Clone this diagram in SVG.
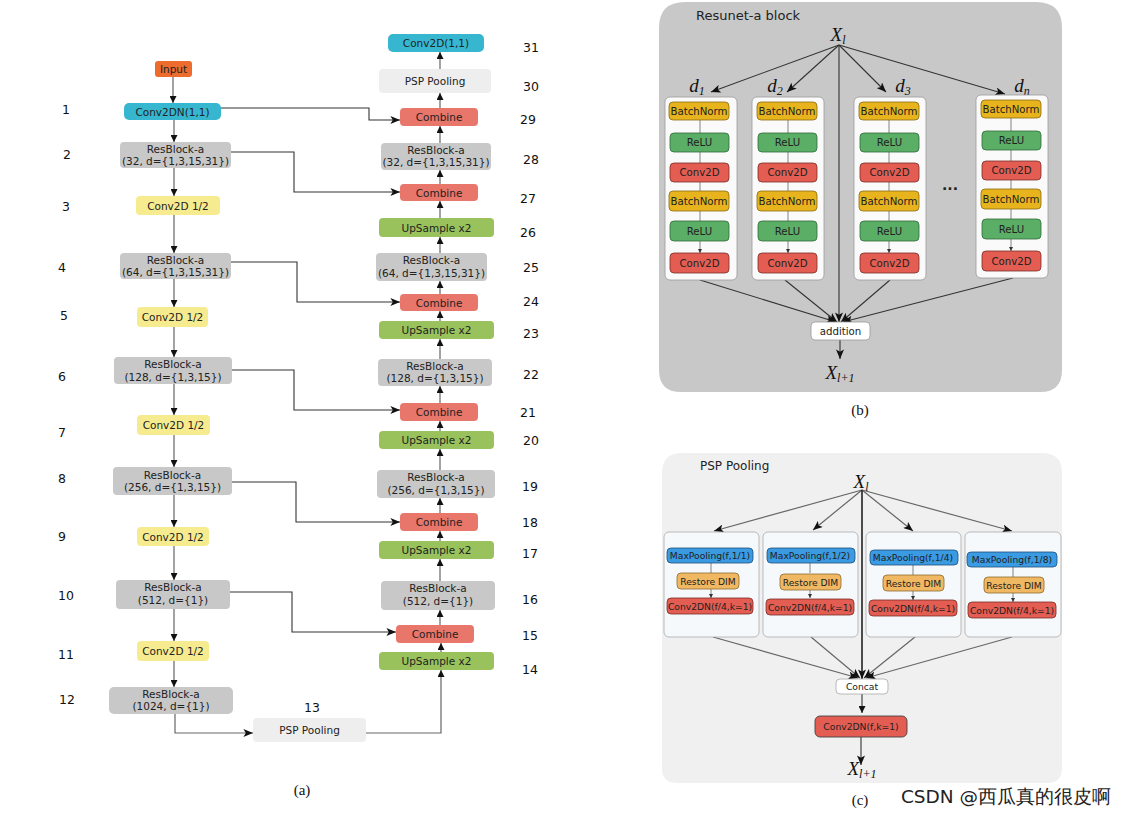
<svg xmlns="http://www.w3.org/2000/svg" width="1127" height="816" viewBox="0 0 1127 816">
<style>
text{font-family:"DejaVu Sans","Liberation Sans",sans-serif;fill:#222}
.lb{font-size:10.5px;text-anchor:middle}
.num{font-size:12.5px;text-anchor:middle;fill:#111}
.cap{font-family:"Liberation Serif",serif;font-size:15px;text-anchor:middle;fill:#111}
.math{font-family:"Liberation Serif",serif;font-style:italic;font-size:19px;text-anchor:middle;fill:#111}
.sub{font-size:12px}
.in{font-size:10.2px;text-anchor:middle}
.ps{font-size:9.2px;text-anchor:middle}
.c{stroke:#666;stroke-width:1.2;fill:none}
.cd{stroke:#333;stroke-width:1.1;fill:none}
.thin{stroke:#666;stroke-width:0.8;fill:none}
.cyan{fill:#36b7cf}
.gray{fill:#c8c8c8}
.yel{fill:#f6ec8f}
.red{fill:#e9766b}
.grn{fill:#99c25d}
.lgt{fill:#eeeeee}
.bn{fill:#e8b41e;stroke:#8a6a10;stroke-width:0.8}
.rl{fill:#5aae66;stroke:#2f6b39;stroke-width:0.8}
.cv{fill:#e35d52;stroke:#7a2d28;stroke-width:0.8}
.mp{fill:#3a9ae2;stroke:#1e4f78;stroke-width:0.8}
.rd{fill:#f0b862;stroke:#8c6a30;stroke-width:0.8}
</style>
<defs>
<marker id="a" viewBox="0 0 10 10" refX="10" refY="5" markerWidth="7" markerHeight="7" markerUnits="userSpaceOnUse" orient="auto"><path d="M0,0 L10,5 L0,10 z" fill="#111"/></marker>
<marker id="s" viewBox="0 0 12 10" refX="12" refY="5" markerWidth="11" markerHeight="8" markerUnits="userSpaceOnUse" orient="auto"><path d="M0,0 L12,5 L0,10 L3,5 z" fill="#111"/></marker>
<marker id="t" viewBox="0 0 10 10" refX="10" refY="5" markerWidth="4" markerHeight="4" markerUnits="userSpaceOnUse" orient="auto"><path d="M0,0 L10,5 L0,10 z" fill="#333"/></marker>
<marker id="b" viewBox="0 0 12 10" refX="12" refY="5" markerWidth="10" markerHeight="8" markerUnits="userSpaceOnUse" orient="auto"><path d="M0,0 L12,5 L0,10 L3,5 z" fill="#111"/></marker>
</defs>

<!-- ===== Panel (a) ===== -->
<g id="connectors-a">
<path class="c" marker-end="url(#a)" d="M173,77 V103"/>
<path class="c" marker-end="url(#a)" d="M174,120 V142"/>
<path class="c" marker-end="url(#a)" d="M174,168 V196"/>
<path class="c" marker-end="url(#a)" d="M174,215 V253"/>
<path class="c" marker-end="url(#a)" d="M174,279 V307"/>
<path class="c" marker-end="url(#a)" d="M174,327 V357"/>
<path class="c" marker-end="url(#a)" d="M174,384 V415"/>
<path class="c" marker-end="url(#a)" d="M174,435 V467"/>
<path class="c" marker-end="url(#a)" d="M174,495 V527"/>
<path class="c" marker-end="url(#a)" d="M174,546 V580"/>
<path class="c" marker-end="url(#a)" d="M174,609 V641"/>
<path class="c" marker-end="url(#a)" d="M174,661 V687"/>
<path class="c" marker-end="url(#s)" d="M175,714 V733 H253"/>
<path class="c" marker-end="url(#a)" d="M366,733 H441 V670"/>
<path class="c" marker-end="url(#a)" d="M441,652 V643"/>
<path class="c" marker-end="url(#a)" d="M440,625 V610"/>
<path class="c" marker-end="url(#a)" d="M440,581 V559"/>
<path class="c" marker-end="url(#a)" d="M440,541 V531"/>
<path class="c" marker-end="url(#a)" d="M440,513 V498"/>
<path class="c" marker-end="url(#a)" d="M440,470 V449"/>
<path class="c" marker-end="url(#a)" d="M440,431 V421"/>
<path class="c" marker-end="url(#a)" d="M440,403 V386"/>
<path class="c" marker-end="url(#a)" d="M440,359 V339"/>
<path class="c" marker-end="url(#a)" d="M440,321 V311"/>
<path class="c" marker-end="url(#a)" d="M440,294 V281"/>
<path class="c" marker-end="url(#a)" d="M440,253 V237"/>
<path class="c" marker-end="url(#a)" d="M440,218 V201"/>
<path class="c" marker-end="url(#a)" d="M440,184 V170"/>
<path class="c" marker-end="url(#a)" d="M440,143 V126"/>
<path class="c" marker-end="url(#a)" d="M440,108 V93"/>
<path class="c" marker-end="url(#a)" d="M440,69 V52"/>
<path class="cd" marker-end="url(#s)" d="M221,108 H369 V120 H400"/>
<path class="cd" marker-end="url(#s)" d="M231,152 H294 V192 H400"/>
<path class="cd" marker-end="url(#s)" d="M231,262 H297 V302 H400"/>
<path class="cd" marker-end="url(#s)" d="M232,370 H294 V410 H400"/>
<path class="cd" marker-end="url(#s)" d="M232,482 H296 V522 H400"/>
<path class="cd" marker-end="url(#s)" d="M230,592 H292 V632 H396"/>
</g>

<g id="n-input"><rect x="155" y="61" width="37" height="16" rx="3" fill="#ec6b2d"/><text class="lb" x="173.5" y="73">Input</text></g>
<g id="n1"><rect class="cyan" x="124" y="103" width="97" height="17" rx="5"/><text class="lb" x="172.5" y="115.5">Conv2DN(1,1)</text><text class="num" x="66" y="114">1</text></g>
<g id="n2"><rect class="gray" x="120" y="142" width="111" height="26" rx="4"/><text class="lb" x="175.5" y="153">ResBlock-a</text><text class="lb" x="175.5" y="165">(32, d={1,3,15,31})</text><text class="num" x="67" y="159">2</text></g>
<g id="n3"><rect class="yel" x="136" y="196" width="84" height="19" rx="4"/><text class="lb" x="178" y="209.5">Conv2D 1/2</text><text class="num" x="66" y="211">3</text></g>
<g id="n4"><rect class="gray" x="120" y="253" width="111" height="26" rx="4"/><text class="lb" x="175.5" y="264">ResBlock-a</text><text class="lb" x="175.5" y="276">(64, d={1,3,15,31})</text><text class="num" x="62" y="272">4</text></g>
<g id="n5"><rect class="yel" x="137" y="307" width="71" height="20" rx="4"/><text class="lb" x="172.5" y="321">Conv2D 1/2</text><text class="num" x="64" y="320">5</text></g>
<g id="n6"><rect class="gray" x="114" y="357" width="118" height="27" rx="4"/><text class="lb" x="173" y="368">ResBlock-a</text><text class="lb" x="173" y="381">(128, d={1,3,15})</text><text class="num" x="62" y="381">6</text></g>
<g id="n7"><rect class="yel" x="137" y="415" width="73" height="20" rx="4"/><text class="lb" x="173.5" y="429">Conv2D 1/2</text><text class="num" x="62" y="437">7</text></g>
<g id="n8"><rect class="gray" x="113" y="467" width="119" height="28" rx="4"/><text class="lb" x="172.5" y="479">ResBlock-a</text><text class="lb" x="172.5" y="491">(256, d={1,3,15})</text><text class="num" x="62" y="483">8</text></g>
<g id="n9"><rect class="yel" x="137" y="527" width="72" height="19" rx="4"/><text class="lb" x="173" y="540.5">Conv2D 1/2</text><text class="num" x="62" y="541">9</text></g>
<g id="n10"><rect class="gray" x="116" y="580" width="114" height="29" rx="4"/><text class="lb" x="173" y="591">ResBlock-a</text><text class="lb" x="173" y="604">(512, d={1})</text><text class="num" x="66" y="600">10</text></g>
<g id="n11"><rect class="yel" x="137" y="641" width="72" height="20" rx="4"/><text class="lb" x="173" y="655">Conv2D 1/2</text><text class="num" x="66" y="659">11</text></g>
<g id="n12"><rect class="gray" x="109" y="687" width="124" height="27" rx="5"/><text class="lb" x="171" y="698">ResBlock-a</text><text class="lb" x="171" y="710">(1024, d={1})</text><text class="num" x="67" y="704">12</text></g>
<g id="n13"><rect class="lgt" x="253" y="718" width="113" height="24" rx="4"/><text class="lb" x="309.5" y="734">PSP Pooling</text><text class="num" x="312" y="712">13</text></g>
<g id="n14"><rect class="grn" x="379" y="652" width="115" height="18" rx="4"/><text class="lb" x="436.5" y="665">UpSample x2</text><text class="num" x="530" y="674">14</text></g>
<g id="n15"><rect class="red" x="396" y="625" width="78" height="18" rx="4"/><text class="lb" x="435" y="638">Combine</text><text class="num" x="530" y="640">15</text></g>
<g id="n16"><rect class="gray" x="381" y="581" width="114" height="29" rx="4"/><text class="lb" x="438" y="592">ResBlock-a</text><text class="lb" x="438" y="605">(512, d={1})</text><text class="num" x="530" y="604">16</text></g>
<g id="n17"><rect class="grn" x="379" y="541" width="115" height="18" rx="4"/><text class="lb" x="436.5" y="554">UpSample x2</text><text class="num" x="530" y="558">17</text></g>
<g id="n18"><rect class="red" x="400" y="513" width="78" height="18" rx="4"/><text class="lb" x="439" y="526">Combine</text><text class="num" x="530" y="527">18</text></g>
<g id="n19"><rect class="gray" x="377" y="470" width="118" height="28" rx="4"/><text class="lb" x="436" y="481">ResBlock-a</text><text class="lb" x="436" y="494">(256, d={1,3,15})</text><text class="num" x="530" y="491">19</text></g>
<g id="n20"><rect class="grn" x="379" y="431" width="115" height="18" rx="4"/><text class="lb" x="436.5" y="444">UpSample x2</text><text class="num" x="531" y="445">20</text></g>
<g id="n21"><rect class="red" x="400" y="403" width="78" height="18" rx="4"/><text class="lb" x="439" y="416">Combine</text><text class="num" x="528" y="417">21</text></g>
<g id="n22"><rect class="gray" x="378" y="359" width="114" height="27" rx="4"/><text class="lb" x="435" y="370">ResBlock-a</text><text class="lb" x="435" y="382">(128, d={1,3,15})</text><text class="num" x="531" y="379">22</text></g>
<g id="n23"><rect class="grn" x="379" y="321" width="115" height="18" rx="4"/><text class="lb" x="436.5" y="334">UpSample x2</text><text class="num" x="531" y="338">23</text></g>
<g id="n24"><rect class="red" x="400" y="294" width="78" height="17" rx="4"/><text class="lb" x="439" y="306.5">Combine</text><text class="num" x="531" y="306">24</text></g>
<g id="n25"><rect class="gray" x="376" y="253" width="111" height="28" rx="4"/><text class="lb" x="431.5" y="264">ResBlock-a</text><text class="lb" x="431.5" y="277">(64, d={1,3,15,31})</text><text class="num" x="531" y="272">25</text></g>
<g id="n26"><rect class="grn" x="379" y="218" width="115" height="19" rx="4"/><text class="lb" x="436.5" y="231.5">UpSample x2</text><text class="num" x="528" y="237">26</text></g>
<g id="n27"><rect class="red" x="400" y="184" width="78" height="17" rx="4"/><text class="lb" x="439" y="196.5">Combine</text><text class="num" x="528" y="203">27</text></g>
<g id="n28"><rect class="gray" x="381" y="143" width="110" height="27" rx="4"/><text class="lb" x="436" y="154">ResBlock-a</text><text class="lb" x="436" y="166">(32, d={1,3,15,31})</text><text class="num" x="531" y="164">28</text></g>
<g id="n29"><rect class="red" x="400" y="108" width="78" height="18" rx="4"/><text class="lb" x="439" y="121">Combine</text><text class="num" x="528" y="124">29</text></g>
<g id="n30"><rect class="lgt" x="379" y="69" width="112" height="24" rx="4"/><text class="lb" x="435" y="84.5">PSP Pooling</text><text class="num" x="531" y="91">30</text></g>
<g id="n31"><rect class="cyan" x="388" y="34" width="96" height="18" rx="5"/><text class="lb" x="436" y="47">Conv2D(1,1)</text><text class="num" x="531" y="52">31</text></g>
<text class="cap" x="302" y="795">(a)</text>

<!-- ===== Panel (b) ===== -->
<g id="panel-b">
<path d="M659,28 Q659,2 685,2 H1036 Q1062,2 1062,28 V370 Q1062,392 1040,392 H681 Q659,392 659,370 Z" fill="#c8c8c8"/>
<text x="696" y="20" font-size="13px" fill="#222">Resunet-a block</text>
<text class="math" x="838" y="41">X<tspan class="sub" dy="3">l</tspan></text>
</g>
<g id="connectors-b">
<path class="cd" marker-end="url(#b)" d="M839,45 L711,92"/>
<path class="cd" marker-end="url(#b)" d="M839,45 L787,92"/>
<path class="cd" marker-end="url(#b)" d="M839,45 L886,92"/>
<path class="cd" marker-end="url(#b)" d="M839,45 L1005,94"/>
<path class="cd" marker-end="url(#b)" d="M839,45 V322"/>
<path class="cd" marker-end="url(#b)" d="M700,280 L836,322"/>
<path class="cd" marker-end="url(#b)" d="M785,280 L837,322"/>
<path class="cd" marker-end="url(#b)" d="M890,280 L841,322"/>
<path class="cd" marker-end="url(#b)" d="M1013,278 L843,322"/>
<path class="cd" marker-end="url(#b)" d="M840,340 V359"/>
</g>
<g id="b-col1">
<text class="math" x="697" y="92">d<tspan class="sub" dy="3">1</tspan></text>
<rect x="665" y="97" width="72" height="183" rx="5" fill="#fafafa" stroke="#999" stroke-width="0.8"/>
<path class="thin" marker-end="url(#t)" d="M700,120 V133 M700,152 V163 M700,182 V191 M700,211 V221 M700,241 V253"/>
<rect class="bn" x="669" y="102" width="60" height="18" rx="4"/><text class="in" x="699" y="114.5">BatchNorm</text>
<rect class="rl" x="670" y="133" width="59" height="19" rx="4"/><text class="in" x="699.5" y="146">ReLU</text>
<rect class="cv" x="670" y="163" width="59" height="19" rx="4"/><text class="in" x="699.5" y="176">Conv2D</text>
<rect class="bn" x="669" y="191" width="60" height="20" rx="4"/><text class="in" x="699" y="204.5">BatchNorm</text>
<rect class="rl" x="670" y="221" width="59" height="20" rx="4"/><text class="in" x="699.5" y="234.5">ReLU</text>
<rect class="cv" x="670" y="253" width="59" height="20" rx="4"/><text class="in" x="699.5" y="266.5">Conv2D</text>
</g>
<g id="b-col2">
<text class="math" x="775" y="92">d<tspan class="sub" dy="3">2</tspan></text>
<rect x="752" y="97" width="72" height="183" rx="5" fill="#fafafa" stroke="#999" stroke-width="0.8"/>
<path class="thin" marker-end="url(#t)" d="M788,120 V133 M788,152 V163 M788,182 V191 M788,211 V221 M788,241 V253"/>
<rect class="bn" x="757" y="102" width="60" height="18" rx="4"/><text class="in" x="787" y="114.5">BatchNorm</text>
<rect class="rl" x="758" y="133" width="59" height="19" rx="4"/><text class="in" x="787.5" y="146">ReLU</text>
<rect class="cv" x="758" y="163" width="59" height="19" rx="4"/><text class="in" x="787.5" y="176">Conv2D</text>
<rect class="bn" x="757" y="191" width="60" height="20" rx="4"/><text class="in" x="787" y="204.5">BatchNorm</text>
<rect class="rl" x="758" y="221" width="59" height="20" rx="4"/><text class="in" x="787.5" y="234.5">ReLU</text>
<rect class="cv" x="758" y="253" width="59" height="20" rx="4"/><text class="in" x="787.5" y="266.5">Conv2D</text>
</g>
<g id="b-col3">
<text class="math" x="903" y="92">d<tspan class="sub" dy="3">3</tspan></text>
<rect x="854" y="97" width="72" height="183" rx="5" fill="#fafafa" stroke="#999" stroke-width="0.8"/>
<path class="thin" marker-end="url(#t)" d="M889,120 V133 M889,152 V163 M889,182 V191 M889,211 V221 M889,241 V253"/>
<rect class="bn" x="859" y="102" width="60" height="18" rx="4"/><text class="in" x="889" y="114.5">BatchNorm</text>
<rect class="rl" x="860" y="133" width="59" height="19" rx="4"/><text class="in" x="889.5" y="146">ReLU</text>
<rect class="cv" x="860" y="163" width="59" height="19" rx="4"/><text class="in" x="889.5" y="176">Conv2D</text>
<rect class="bn" x="859" y="191" width="60" height="20" rx="4"/><text class="in" x="889" y="204.5">BatchNorm</text>
<rect class="rl" x="860" y="221" width="59" height="20" rx="4"/><text class="in" x="889.5" y="234.5">ReLU</text>
<rect class="cv" x="860" y="253" width="59" height="20" rx="4"/><text class="in" x="889.5" y="266.5">Conv2D</text>
</g>
<text x="950" y="190" font-size="14px" font-weight="bold" text-anchor="middle" fill="#111">...</text>
<g id="b-coln">
<text class="math" x="1022" y="92">d<tspan class="sub" dy="3">n</tspan></text>
<rect x="976" y="95" width="72" height="183" rx="5" fill="#fafafa" stroke="#999" stroke-width="0.8"/>
<path class="thin" marker-end="url(#t)" d="M1011,118 V131 M1011,150 V161 M1011,180 V189 M1011,209 V219 M1011,239 V251"/>
<rect class="bn" x="981" y="100" width="60" height="18" rx="4"/><text class="in" x="1011" y="112.5">BatchNorm</text>
<rect class="rl" x="982" y="131" width="59" height="19" rx="4"/><text class="in" x="1011.5" y="144">ReLU</text>
<rect class="cv" x="982" y="161" width="59" height="19" rx="4"/><text class="in" x="1011.5" y="174">Conv2D</text>
<rect class="bn" x="981" y="189" width="60" height="20" rx="4"/><text class="in" x="1011" y="202.5">BatchNorm</text>
<rect class="rl" x="982" y="219" width="59" height="20" rx="4"/><text class="in" x="1011.5" y="232.5">ReLU</text>
<rect class="cv" x="982" y="251" width="59" height="20" rx="4"/><text class="in" x="1011.5" y="264.5">Conv2D</text>
</g>
<g id="b-addition"><rect x="811" y="322" width="59" height="18" rx="4" fill="#fff" stroke="#999" stroke-width="0.8"/><text class="in" x="840.5" y="335">addition</text></g>
<text class="math" x="840" y="379">X<tspan class="sub" dy="3">l+1</tspan></text>
<text class="cap" x="860" y="415">(b)</text>

<!-- ===== Panel (c) ===== -->
<g id="panel-c">
<path d="M662,473 Q662,453 682,453 H1042 Q1062,453 1062,473 V768 Q1062,783 1047,783 H677 Q662,783 662,768 Z" fill="#f0f0f0"/>
<text x="700" y="470" font-size="12px" fill="#222">PSP Pooling</text>
<text class="math" x="861" y="488" font-size="17px">X<tspan class="sub" dy="3" font-size="11px">l</tspan></text>
</g>
<g id="connectors-c">
<path class="c" stroke-width="1" marker-end="url(#b)" d="M862,490 L714,531"/>
<path class="c" stroke-width="1" marker-end="url(#b)" d="M862,490 L813,530"/>
<path class="c" stroke-width="1" marker-end="url(#b)" d="M862,490 L913,531"/>
<path class="c" stroke-width="1" marker-end="url(#b)" d="M862,490 L1012,531"/>
<path stroke="#222" stroke-width="1.6" fill="none" marker-end="url(#b)" d="M862,490 V679"/>
<path class="c" stroke-width="1" marker-end="url(#b)" d="M713,637 L858,678"/>
<path class="c" stroke-width="1" marker-end="url(#b)" d="M811,637 L860,678"/>
<path class="c" stroke-width="1" marker-end="url(#b)" d="M915,637 L864,678"/>
<path class="c" stroke-width="1" marker-end="url(#b)" d="M1012,637 L866,678"/>
<path class="cd" marker-end="url(#a)" d="M862,694 V713"/>
<path class="cd" marker-end="url(#b)" d="M861,737 V765"/>
</g>
<g id="c-col1">
<rect x="664" y="532" width="95" height="105" rx="5" fill="#f6f9fb" stroke="#aaa" stroke-width="0.8"/>
<path class="thin" marker-end="url(#t)" d="M711,563 V573 M711,589 V598"/>
<rect class="mp" x="667" y="548" width="86" height="15" rx="4"/><text class="ps" x="710" y="559">MaxPooling(f,1/1)</text>
<rect class="rd" x="677" y="573" width="62" height="16" rx="4"/><text class="ps" x="708" y="584.5">Restore DIM</text>
<rect class="cv" x="667" y="598" width="86" height="16" rx="4"/><text class="ps" x="710" y="609.5">Conv2DN(f/4,k=1)</text>
</g>
<g id="c-col2">
<rect x="763" y="532" width="95" height="105" rx="5" fill="#f6f9fb" stroke="#aaa" stroke-width="0.8"/>
<path class="thin" marker-end="url(#t)" d="M810,563 V573 M810,589 V598"/>
<rect class="mp" x="767" y="548" width="88" height="15" rx="4"/><text class="ps" x="810" y="559">MaxPooling(f,1/2)</text>
<rect class="rd" x="780" y="574" width="61" height="16" rx="4"/><text class="ps" x="810.5" y="585.5">Restore DIM</text>
<rect class="cv" x="766" y="599" width="88" height="16" rx="4"/><text class="ps" x="810" y="610.5">Conv2DN(f/4,k=1)</text>
</g>
<g id="c-col3">
<rect x="866" y="532" width="95" height="105" rx="5" fill="#f6f9fb" stroke="#aaa" stroke-width="0.8"/>
<path class="thin" marker-end="url(#t)" d="M913,565 V575 M913,591 V600"/>
<rect class="mp" x="870" y="550" width="88" height="15" rx="4"/><text class="ps" x="913" y="561">MaxPooling(f,1/4)</text>
<rect class="rd" x="883" y="575" width="61" height="16" rx="4"/><text class="ps" x="913.5" y="586.5">Restore DIM</text>
<rect class="cv" x="869" y="600" width="88" height="16" rx="4"/><text class="ps" x="913" y="611.5">Conv2DN(f/4,k=1)</text>
</g>
<g id="c-col4">
<rect x="965" y="532" width="96" height="105" rx="5" fill="#f6f9fb" stroke="#aaa" stroke-width="0.8"/>
<path class="thin" marker-end="url(#t)" d="M1013,567 V577 M1013,593 V602"/>
<rect class="mp" x="967" y="552" width="90" height="15" rx="4"/><text class="ps" x="1012" y="563">MaxPooling(f,1/8)</text>
<rect class="rd" x="984" y="577" width="60" height="16" rx="4"/><text class="ps" x="1014" y="588.5">Restore DIM</text>
<rect class="cv" x="968" y="602" width="88" height="16" rx="4"/><text class="ps" x="1012" y="613.5">Conv2DN(f/4,k=1)</text>
</g>
<g id="c-concat"><rect x="836" y="679" width="52" height="15" rx="4" fill="#fff" stroke="#aaa" stroke-width="0.8"/><text class="ps" x="862" y="690">Concat</text></g>
<g id="c-conv"><rect x="815" y="716" width="92" height="21" rx="5" fill="#e35d52" stroke="#444" stroke-width="0.9"/><text class="ps" x="861" y="730">Conv2DN(f,k=1)</text></g>
<text class="math" x="862" y="775" font-size="15px">X<tspan class="sub" dy="3" font-size="10px">l+1</tspan></text>
<text class="cap" x="860" y="805">(c)</text>
<text x="1006" y="803" font-family="'Liberation Sans','Noto Sans CJK SC',sans-serif" font-size="18.5px" text-anchor="middle" fill="#a0a0a0">CSDN @西瓜真的很皮啊</text>
</svg>
